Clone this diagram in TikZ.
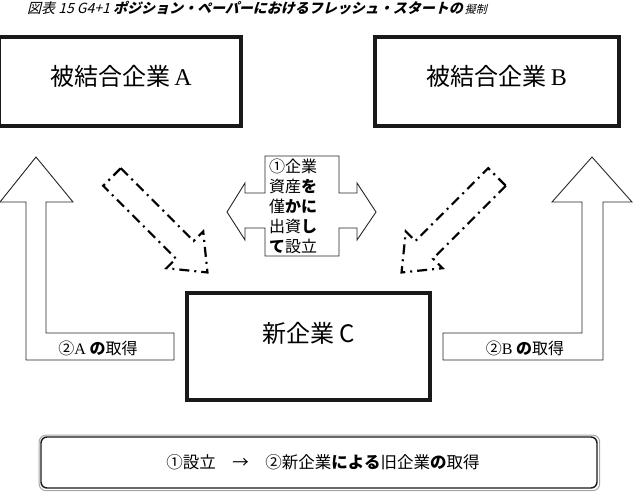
\documentclass[tikz,border=0pt]{standalone}
\usepackage{fontspec}
\setmainfont{Liberation Serif}
\newfontfamily\jp{Noto Sans CJK JP}
\newfontfamily\jpslant{Noto Sans CJK JP}[FakeSlant=0.25]
\usetikzlibrary{positioning}
\tikzset{
  corp/.style    = {draw=black!90, line width=3.5pt, inner sep=0pt},
  hollow/.style  = {draw=black!85, line width=0.9pt, fill=white},
  dashdot/.style = {draw, line width=2.2pt, dash pattern=on 10pt off 5pt on 2pt off 5pt},
  big/.style     = {font=\jp\fontsize{24}{28}\selectfont, inner sep=0pt},
  lbl/.style     = {font=\jp\fontsize{16}{20}\selectfont, inner sep=0pt},
}
\newcommand{\kn}[1]{{\bfseries #1}}

\begin{document}
\begin{tikzpicture}[x=1pt,y=-1pt]
 \useasboundingbox (0,0) rectangle (633,500);
 % title
 \node[anchor=base, inner sep=0pt] (title) at (257,14)
   {\jpslant\fontsize{14}{16}\selectfont 図表 15 G4+1 \bfseries ポジション・ペーパーにおけるフレッシュ・スタートの\mdseries\fontsize{11}{13}\selectfont\hspace{2pt}擬制};
 % companies
 \node[corp, minimum width=242, minimum height=89] (boxA) at (120,81.5) {};
 \node[corp, minimum width=244, minimum height=89] (boxB) at (497,81.5) {};
 \node[corp, minimum width=243, minimum height=107] (boxC) at (308.5,346.5) {};
 \node[big] (txtA) at ([xshift=1pt,yshift=5pt]boxA.center) {被結合企業\,{\rmfamily A}};
 \node[big] (txtB) at ([yshift=5pt]boxB.center) {被結合企業\,{\rmfamily B}};
 \node[big] (txtC) at ([yshift=13pt]boxC.center) {新企業 C};
 % acquisition arrows
 \draw[hollow] (36,157) -- (73,202) -- (46,202) -- (46,333) -- (174,333) -- (174,360)
   -- (26,360) -- (26,202) -- (0,202) -- cycle;
 \draw[hollow] (592,157) -- (632,202) -- (603,202) -- (603,360) -- (443,360) -- (443,333)
   -- (582,333) -- (582,202) -- (552,202) -- cycle;
 \node[lbl] (getA) at (98,348) {②{\rmfamily A} \kn{の}取得};
 \node[lbl] (getB) at (525,348) {②{\rmfamily B} \kn{の}取得};
 % founding arrows
 \foreach \cx/\ang in {112/-45, 497/-135}{
   \begin{scope}[shift={(\cx,177)}, rotate=\ang]
     \draw[dashdot] (0,-12.5) -- (103,-12.5) -- (103,-26) -- (135,0) -- (103,26)
       -- (103,12.5) -- (0,12.5) -- cycle;
   \end{scope}}
 % capital
 \draw[hollow] (265,156) -- (339,156) -- (339,193) -- (357,193) -- (357,183) -- (376,212)
   -- (357,240) -- (357,228) -- (339,228) -- (339,256) -- (265,256) -- (265,228)
   -- (245,228) -- (245,240) -- (227,212) -- (245,183) -- (245,193) -- (265,193) -- cycle;
 \node[lbl, anchor=north west, align=left] (capital) at (269,159)
   {①企業\\資産\kn{を}\\僅\kn{かに}\\出資\kn{し}\\\kn{て}設立};
 % summary
 \node[draw=black!90, line width=1.4pt, rounded corners=6pt, minimum width=556,
   minimum height=51] (summary) at (319,462.5) {};
 \draw[gray!70, line width=1pt, rounded corners=7pt]
   ([shift={(-1.2pt,1.2pt)}]summary.north west) rectangle ([shift={(2pt,-2pt)}]summary.south east);
 \node[lbl, font=\jp\fontsize{16.5}{20}\selectfont] (steps) at ([xshift=4pt]summary.center)
   {①設立　→　②新企業\kn{による}旧企業\kn{の}取得};
\end{tikzpicture}
\end{document}
